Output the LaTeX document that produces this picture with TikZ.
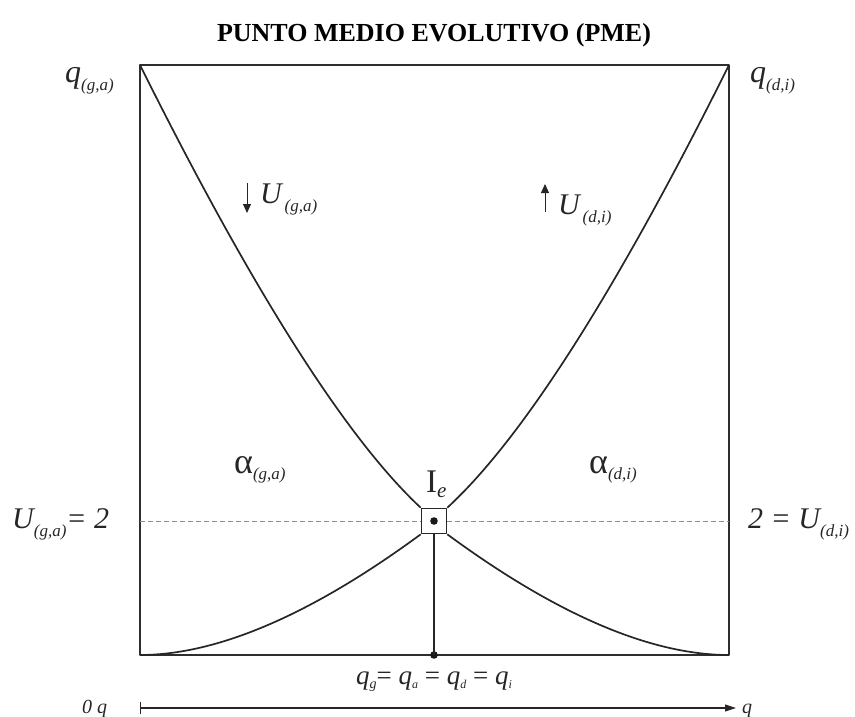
\documentclass[tikz,border=0pt]{standalone}
\usepackage{fontspec}
\setmainfont{Liberation Serif}
\usetikzlibrary{arrows.meta}
\newcommand\sublab[5]{{\fontsize{#2}{#2}\selectfont #1}\raisebox{-#5}{\fontsize{#4}{#4}\selectfont\itshape #3}}
\begin{document}
\begin{tikzpicture}[x=1pt,y=-1pt,line join=round]
\useasboundingbox (0,0) rectangle (855,717);
\tikzset{
  frame/.style={line width=1.8pt,draw=black!82},
  curve/.style={line width=1.7pt,draw=black!85},
  guide/.style={line width=0.7pt,draw=black!45,dash pattern=on 5pt off 3pt},
  lab/.style={inner sep=0pt,anchor=base west,text=black!85},
  axisline/.style={line width=1.1pt,draw=black!85,{Bar[width=12pt]}-{Triangle[length=11pt,width=7pt]}},
  uarrow/.style={line width=0.9pt,draw=black!85,-{Triangle[length=9pt,width=8pt]}}
}
% frame
\coordinate (TL) at (140,65);
\coordinate (TR) at (729,65);
\coordinate (BR) at (729,655);
\coordinate (BL) at (140,655);
\draw[frame] (TL) -- (TR) -- (BR) -- (BL) -- cycle;
% centre box
\node[draw=black!85,line width=1.7pt,minimum size=25pt,inner sep=0pt] (box) at (434,521) {};
\fill[black!90] (box.center) circle (3.8);
\coordinate (B) at (434,655);
\fill[black!90] (B) circle (3.8);
\draw[curve] (box.south) -- (B);
% dashed guide
\coordinate (DL) at (140,521);
\coordinate (DR) at (729,521);
\draw[guide] (DL) -- (box.west);
\draw[guide] (box.east) -- (DR);
% curves
\draw[curve] (TL) .. controls (252,290) and (346,438) .. (box.north west);
\draw[curve] (TR) .. controls (617,290) and (523,438) .. (box.north east);
\draw[curve] (BL) .. controls (217,655) and (311,615) .. (box.south west);
\draw[curve] (box.south east) .. controls (557,615) and (651,655) .. (BR);
% title
\node[inner sep=0pt,anchor=base] (title) at (434,42) {\fontsize{26}{26}\selectfont\bfseries PUNTO MEDIO EVOLUTIVO (PME)};
% corner labels
\node[lab] (qga) at (65,83) {\sublab{\itshape q}{32}{(g,a)}{17}{8pt}};
\node[lab] (qdi) at (750,83) {\sublab{\itshape q}{32}{(d,i)}{17}{8pt}};
% U labels with arrows
\coordinate (da1) at (247,183);
\coordinate (da2) at (247,213);
\draw[uarrow] (da1) -- (da2);
\node[lab] (Uga) at (260,203) {\sublab{\itshape U}{30}{\,(g,a)}{17}{8pt}};
\coordinate (ua1) at (545,212);
\coordinate (ua2) at (545,184);
\draw[uarrow] (ua1) -- (ua2);
\node[lab] (Udi) at (558,214) {\sublab{\itshape U}{30}{\,(d,i)}{17}{8pt}};
% alpha labels
\node[lab] (aga) at (234,473) {\sublab{α}{36}{(g,a)}{17}{6pt}};
\node[lab] (adi) at (589,473) {\sublab{α}{36}{(d,i)}{17}{6pt}};
% I_e
\node[lab] (Ie) at (426,492) {\sublab{I}{33}{e}{21}{5pt}};
% side labels
\node[lab] (Uleft) at (12,528) {\sublab{\itshape U}{30}{(g,a)}{17}{8pt}{\fontsize{30}{30}\selectfont\itshape = 2}};
\node[lab] (Uright) at (748,528) {{\fontsize{30}{30}\selectfont\itshape 2 = }\sublab{\itshape U}{30}{(d,i)}{17}{8pt}};
% bottom label
\node[inner sep=0pt,anchor=base,text=black!85] (qeq) at (434,684) {\sublab{\itshape q}{27}{g}{14}{4pt}{\fontsize{27}{27}\selectfont = }\sublab{\itshape q}{27}{a}{12}{4pt}{\fontsize{27}{27}\selectfont\ = }\sublab{\itshape q}{27}{d}{12}{4pt}{\fontsize{27}{27}\selectfont\ = }\sublab{\itshape q}{27}{i}{12}{4pt}};
% axis
\coordinate (AX0) at (140,708);
\coordinate (AX1) at (736,708);
\draw[axisline] (AX0) -- (AX1);
\node[lab] (zero) at (82,713) {\fontsize{20}{20}\selectfont\itshape 0 q};
\node[lab] (qax) at (742,713) {\fontsize{20}{20}\selectfont\itshape q};
\end{tikzpicture}
\end{document}
